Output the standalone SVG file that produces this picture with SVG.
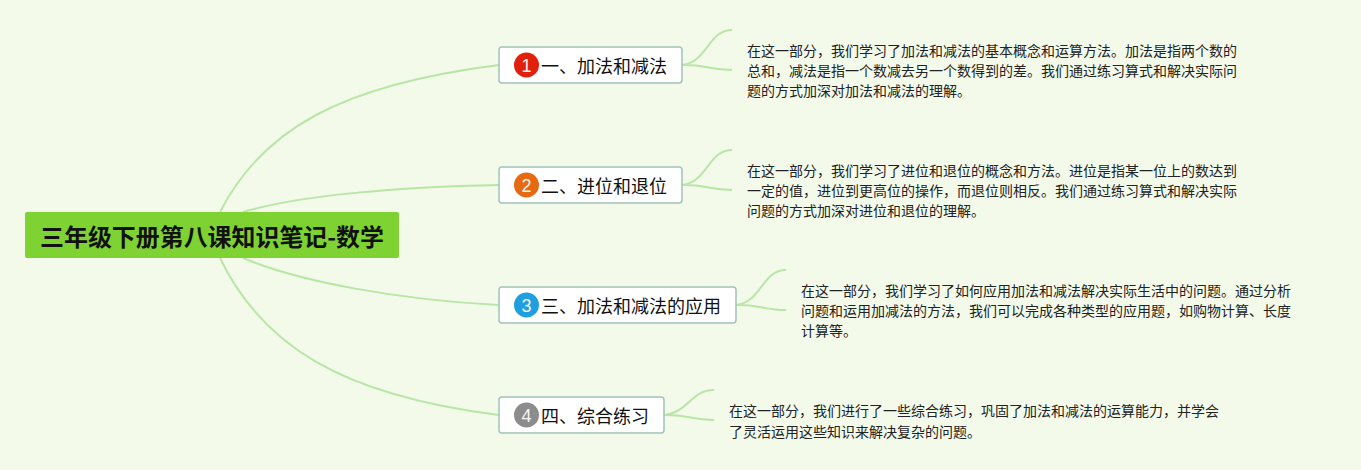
<svg xmlns="http://www.w3.org/2000/svg" width="1361" height="470" viewBox="0 0 1361 470">
<style>
.c{fill:none;stroke:#b8e6a6;stroke-width:2}
.t{font-family:"Noto Sans CJK SC","Noto Sans",sans-serif;fill:#111}
.n{fill:#fff;stroke:#a0c4b8;stroke-width:1.5}
.l{font-size:18px}
.d{font-size:14px;fill:#222}
.i{font-family:"Liberation Sans",sans-serif;font-size:18px;fill:#f4f4f4;text-anchor:middle}
</style>
<rect width="1361" height="470" fill="#f3faea"/>
<g id="connectors">
<path class="c" d="M220 212C262 130 340 85 499 65"/>
<path class="c" d="M243 212C300 195 400 187 499 185"/>
<path class="c" d="M243 258C300 282 400 300 499 305"/>
<path class="c" d="M220 258C262 345 340 395 499 415"/>
<path class="c" d="M682 65C708 62 708 30 732 30"/>
<path class="c" d="M682 65C700 64 712 70 732 70"/>
<path class="c" d="M682 185C708 182 708 150 732 150"/>
<path class="c" d="M682 185C700 184 712 190 732 190"/>
<path class="c" d="M736 305C762 302 762 270 786 270"/>
<path class="c" d="M736 305C754 304 766 310 786 310"/>
<path class="c" d="M664 415C690 412 690 390 714 390"/>
<path class="c" d="M664 415C682 414 694 420 714 420"/>
</g>
<g id="root">
<rect x="25" y="212" width="374" height="46" rx="2" fill="#7ed332"/>
<text class="t" x="212" y="246" font-size="24" font-weight="700" text-anchor="middle" textLength="344" lengthAdjust="spacingAndGlyphs">三年级下册第八课知识笔记-数学</text>
</g>
<g id="n1">
<rect class="n" x="499" y="47" width="183" height="36" rx="3"/>
<circle cx="526.500" cy="65" r="12.500" fill="#e0200c"/>
<text class="i" x="526.500" y="71.500">1</text>
<text class="t l" x="541" y="73">一、加法和减法</text>
</g>
<g id="n2">
<rect class="n" x="499" y="167" width="183" height="36" rx="3"/>
<circle cx="526.500" cy="185" r="12.500" fill="#e56a12"/>
<text class="i" x="526.500" y="191.500">2</text>
<text class="t l" x="541" y="193">二、进位和退位</text>
</g>
<g id="n3">
<rect class="n" x="499" y="287" width="237" height="36" rx="3"/>
<circle cx="526.500" cy="305" r="12.500" fill="#1f9fe0"/>
<text class="i" x="526.500" y="311.500">3</text>
<text class="t l" x="541" y="313">三、加法和减法的应用</text>
</g>
<g id="n4">
<rect class="n" x="499" y="397" width="165" height="36" rx="3"/>
<circle cx="526.500" cy="415" r="12.500" fill="#8c8c8c"/>
<text class="i" x="526.500" y="421.500">4</text>
<text class="t l" x="541" y="423">四、综合练习</text>
</g>
<g id="d1" class="t d">
<text x="747" y="56">在这一部分，我们学习了加法和减法的基本概念和运算方法。加法是指两个数的</text>
<text x="747" y="76">总和，减法是指一个数减去另一个数得到的差。我们通过练习算式和解决实际问</text>
<text x="747" y="96">题的方式加深对加法和减法的理解。</text>
</g>
<g id="d2" class="t d">
<text x="747" y="176">在这一部分，我们学习了进位和退位的概念和方法。进位是指某一位上的数达到</text>
<text x="747" y="196">一定的值，进位到更高位的操作，而退位则相反。我们通过练习算式和解决实际</text>
<text x="747" y="216">问题的方式加深对进位和退位的理解。</text>
</g>
<g id="d3" class="t d">
<text x="801" y="296">在这一部分，我们学习了如何应用加法和减法解决实际生活中的问题。通过分析</text>
<text x="801" y="316">问题和运用加减法的方法，我们可以完成各种类型的应用题，如购物计算、长度</text>
<text x="801" y="336">计算等。</text>
</g>
<g id="d4" class="t d">
<text x="729" y="416">在这一部分，我们进行了一些综合练习，巩固了加法和减法的运算能力，并学会</text>
<text x="729" y="437">了灵活运用这些知识来解决复杂的问题。</text>
</g>
</svg>
